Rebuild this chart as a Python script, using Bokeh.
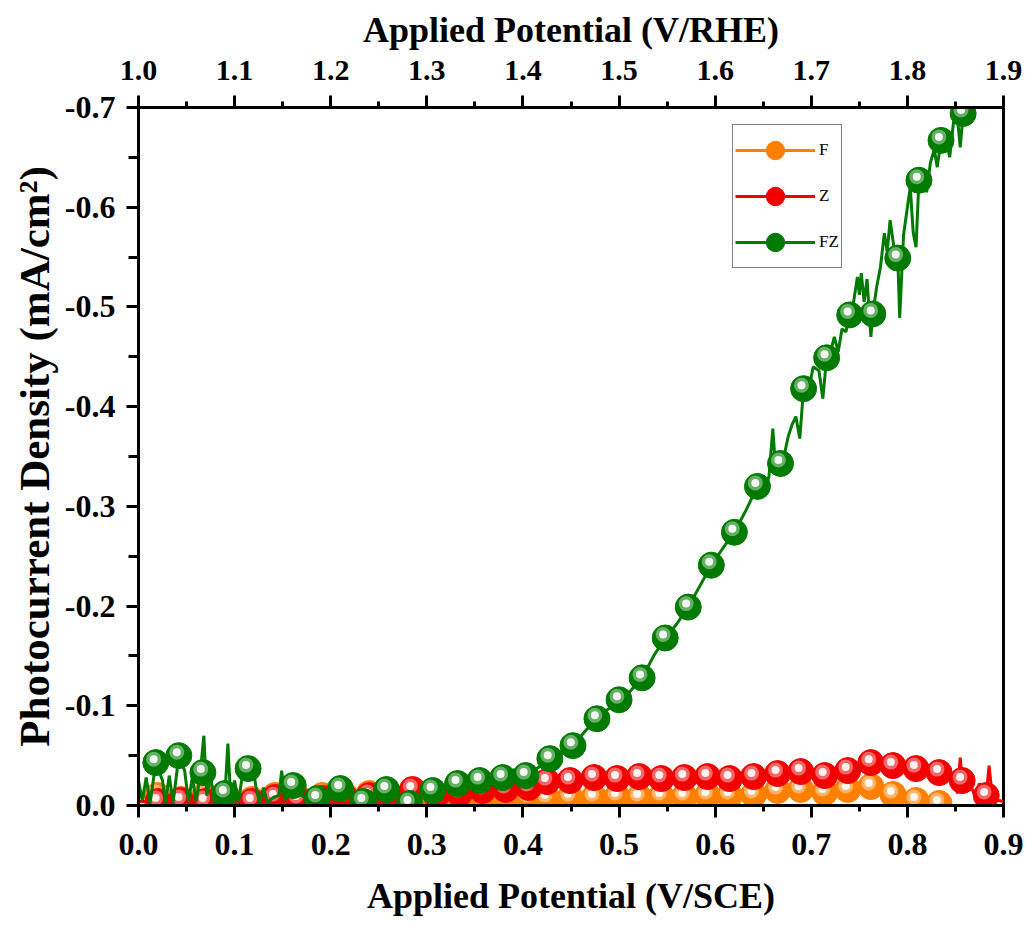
from bokeh.plotting import figure
from bokeh.models import (Range1d, LinearAxis, FixedTicker, NumeralTickFormatter,
                          ColumnDataSource, Legend, LegendItem)
from bokeh.transform import dodge
from bokeh.embed import file_html
from bokeh.resources import INLINE

# ---------------- data (V vs SCE, photocurrent mA/cm^2) ----------------
f_marker_x = [0.020, 0.044, 0.069, 0.093, 0.118, 0.142, 0.166, 0.191, 0.215, 0.240, 0.262, 0.285,
              0.310, 0.334, 0.358, 0.382, 0.406, 0.425, 0.449, 0.474, 0.498, 0.521, 0.544, 0.568,
              0.592, 0.615, 0.640, 0.665, 0.689, 0.714, 0.738, 0.762, 0.785, 0.809, 0.833]
f_marker_y = [-0.010, -0.006, -0.010, -0.008, -0.006, -0.010, -0.008, -0.010, -0.010, -0.012, -0.008, -0.006,
              -0.004, -0.005, -0.006, -0.006, -0.007, -0.007, -0.008, -0.008, -0.009, -0.008, -0.009, -0.009,
              -0.010, -0.010, -0.011, -0.015, -0.016, -0.013, -0.016, -0.019, -0.011, -0.005, -0.002]
f_line_x = [0.000, 0.020, 0.044, 0.069, 0.093, 0.118, 0.142, 0.166, 0.191, 0.215, 0.240, 0.262, 0.285,
            0.310, 0.334, 0.358, 0.382, 0.406, 0.425, 0.449, 0.474, 0.498, 0.521, 0.544, 0.568,
            0.592, 0.615, 0.640, 0.665, 0.689, 0.714, 0.738, 0.762, 0.785, 0.809, 0.833, 0.845]
f_line_y = [-0.008, -0.010, -0.006, -0.010, -0.008, -0.006, -0.010, -0.008, -0.010, -0.010, -0.012, -0.008, -0.006,
            -0.004, -0.005, -0.006, -0.006, -0.007, -0.007, -0.008, -0.008, -0.009, -0.008, -0.009, -0.009,
            -0.010, -0.010, -0.011, -0.015, -0.016, -0.013, -0.016, -0.019, -0.011, -0.005, -0.002, 0.000]

z_marker_x = [0.020, 0.044, 0.069, 0.093, 0.118, 0.142, 0.166, 0.191, 0.215, 0.240, 0.262, 0.285,
              0.310, 0.334, 0.358, 0.382, 0.406, 0.425, 0.449, 0.474, 0.498, 0.521, 0.544, 0.568,
              0.592, 0.615, 0.640, 0.665, 0.689, 0.714, 0.738, 0.762, 0.785, 0.809, 0.833, 0.857, 0.882]
z_marker_y = [-0.004, -0.005, -0.004, -0.005, -0.004, -0.008, -0.006, -0.007, -0.008, -0.010, -0.010, -0.016,
              -0.010, -0.012, -0.015, -0.016, -0.018, -0.024, -0.025, -0.028, -0.027, -0.029, -0.027, -0.028,
              -0.029, -0.027, -0.029, -0.032, -0.034, -0.030, -0.035, -0.043, -0.040, -0.037, -0.033, -0.025, -0.010]
z_line_x = [0.000, 0.020, 0.044, 0.069, 0.093, 0.118, 0.142, 0.166, 0.191, 0.215, 0.240, 0.262, 0.285,
            0.310, 0.334, 0.358, 0.382, 0.406, 0.425, 0.449, 0.474, 0.498, 0.521, 0.544, 0.568,
            0.592, 0.615, 0.640, 0.665, 0.689, 0.714, 0.738, 0.762, 0.785, 0.809, 0.833, 0.848,
            0.852, 0.855, 0.857, 0.866, 0.870, 0.875, 0.882, 0.885, 0.888, 0.895, 0.900]
z_line_y = [-0.004, -0.004, -0.005, -0.004, -0.005, -0.004, -0.008, -0.006, -0.007, -0.008, -0.010, -0.010, -0.016,
            -0.010, -0.012, -0.015, -0.016, -0.018, -0.024, -0.025, -0.028, -0.027, -0.029, -0.027, -0.028,
            -0.029, -0.027, -0.029, -0.032, -0.034, -0.030, -0.035, -0.043, -0.040, -0.037, -0.033, -0.030,
            -0.012, -0.048, -0.025, -0.020, -0.010, -0.022, -0.010, -0.040, -0.012, -0.005, -0.004]

fz_marker_x = [0.018, 0.042, 0.067, 0.090, 0.114, 0.161, 0.186, 0.210, 0.234, 0.258, 0.282, 0.306,
               0.332, 0.355, 0.379, 0.403, 0.428, 0.452, 0.477, 0.500, 0.524, 0.548, 0.572, 0.596,
               0.620, 0.644, 0.668, 0.692, 0.716, 0.740, 0.764, 0.790, 0.812, 0.835, 0.858]
fz_marker_y = [-0.043, -0.050, -0.033, -0.012, -0.037, -0.020, -0.007, -0.017, -0.004, -0.016, -0.002, -0.015,
               -0.022, -0.025, -0.028, -0.030, -0.047, -0.060, -0.087, -0.106, -0.128, -0.168, -0.199, -0.241,
               -0.274, -0.320, -0.343, -0.418, -0.449, -0.492, -0.493, -0.549, -0.627, -0.667, -0.694]
fz_line_x = [0.000, 0.004, 0.008, 0.012, 0.018, 0.025, 0.028, 0.032, 0.036, 0.042, 0.048, 0.052, 0.056,
             0.060, 0.064, 0.068, 0.071, 0.075, 0.079, 0.083, 0.087, 0.090, 0.093, 0.096, 0.100, 0.104,
             0.108, 0.114, 0.118, 0.122, 0.126, 0.130, 0.134, 0.140, 0.146, 0.149, 0.152, 0.156, 0.161,
             0.165, 0.170, 0.178, 0.186, 0.195, 0.203, 0.210, 0.222, 0.234, 0.245, 0.258, 0.270, 0.282,
             0.294, 0.306, 0.318, 0.332, 0.343, 0.355, 0.367, 0.379, 0.391, 0.397, 0.403, 0.416, 0.428,
             0.440, 0.452, 0.465, 0.477, 0.489, 0.500, 0.512, 0.524, 0.536, 0.548, 0.560, 0.572, 0.584,
             0.596, 0.608, 0.620, 0.632, 0.644, 0.650, 0.656, 0.660, 0.663, 0.668, 0.672, 0.676, 0.680,
             0.684, 0.688, 0.692, 0.698, 0.702, 0.708, 0.712, 0.716, 0.720, 0.724, 0.728, 0.732, 0.736,
             0.740, 0.744, 0.748, 0.750, 0.752, 0.755, 0.758, 0.762, 0.764, 0.768, 0.772, 0.776, 0.779,
             0.782, 0.786, 0.790, 0.792, 0.796, 0.800, 0.803, 0.806, 0.809, 0.812, 0.816, 0.820, 0.824,
             0.828, 0.831, 0.835, 0.840, 0.844, 0.848, 0.852, 0.855, 0.858, 0.865, 0.875, 0.900]
fz_line_y = [-0.025, -0.005, -0.028, -0.002, -0.043, -0.025, -0.002, -0.030, -0.003, -0.050, -0.035, -0.004, -0.028,
             -0.004, -0.030, -0.070, -0.010, -0.030, -0.002, -0.020, -0.005, -0.012, -0.062, -0.005, -0.025, -0.003,
             -0.030, -0.037, -0.045, -0.020, -0.002, -0.018, -0.003, -0.008, -0.010, -0.035, -0.005, -0.015, -0.020,
             -0.028, -0.010, -0.005, -0.007, -0.012, -0.006, -0.017, -0.010, -0.004, -0.010, -0.016, -0.008, -0.002,
             -0.010, -0.015, -0.018, -0.022, -0.024, -0.025, -0.026, -0.028, -0.036, -0.028, -0.030, -0.038, -0.047,
             -0.052, -0.060, -0.075, -0.087, -0.097, -0.106, -0.115, -0.128, -0.150, -0.168, -0.182, -0.199, -0.220,
             -0.241, -0.258, -0.274, -0.296, -0.320, -0.312, -0.330, -0.378, -0.335, -0.343, -0.352, -0.370, -0.382,
             -0.390, -0.368, -0.418, -0.420, -0.440, -0.436, -0.408, -0.449, -0.455, -0.470, -0.455, -0.478, -0.475,
             -0.492, -0.505, -0.530, -0.512, -0.534, -0.505, -0.528, -0.470, -0.493, -0.520, -0.540, -0.574, -0.555,
             -0.587, -0.560, -0.549, -0.489, -0.572, -0.600, -0.620, -0.575, -0.560, -0.627, -0.635, -0.615, -0.645,
             -0.658, -0.640, -0.667, -0.672, -0.650, -0.685, -0.690, -0.660, -0.694, -0.700, -0.705, -0.705]

series_names = ["F", "Z", "FZ"]
series_colors = ["#FF8000", "#F20000", "#007A00"]

sce_ticks = [0.0, 0.1, 0.2, 0.3, 0.4, 0.5, 0.6, 0.7, 0.8, 0.9]
sce_minor = [0.05, 0.15, 0.25, 0.35, 0.45, 0.55, 0.65, 0.75, 0.85]
rhe_ticks = [1.0, 1.1, 1.2, 1.3, 1.4, 1.5, 1.6, 1.7, 1.8, 1.9]
rhe_minor = [1.05, 1.15, 1.25, 1.35, 1.45, 1.55, 1.65, 1.75, 1.85]
j_ticks = [0.0, -0.1, -0.2, -0.3, -0.4, -0.5, -0.6, -0.7]
j_minor = [-0.05, -0.15, -0.25, -0.35, -0.45, -0.55, -0.65]

# ---------------- figure ----------------
FONT = "Liberation Serif"
p = figure(width=1029, height=926, output_backend="svg", toolbar_location=None,
           x_range=Range1d(0.0, 0.9), y_range=Range1d(0.0, -0.7),
           x_axis_location=None, y_axis_location=None,
           min_border_left=138, min_border_right=26, min_border_top=107, min_border_bottom=121)
p.grid.visible = False
p.outline_line_color = "black"
p.outline_line_width = 3
p.background_fill_color = "white"
p.border_fill_color = "white"


def style_axis(ax, tick_size, label_size):
    ax.axis_line_width = 3
    ax.axis_line_color = "black"
    ax.major_tick_line_width = 3
    ax.minor_tick_line_width = 3
    ax.major_tick_in = 0
    ax.minor_tick_in = 0
    ax.major_tick_out = 12
    ax.minor_tick_out = 6
    ax.major_label_text_font = FONT
    ax.major_label_text_font_style = "bold"
    ax.major_label_text_font_size = tick_size
    ax.major_label_text_color = "black"
    ax.axis_label_text_font = FONT
    ax.axis_label_text_font_style = "bold"
    ax.axis_label_text_font_size = label_size
    ax.axis_label_text_color = "black"


bottom = LinearAxis(ticker=FixedTicker(ticks=sce_ticks, minor_ticks=sce_minor),
                    formatter=NumeralTickFormatter(format="0.0"),
                    axis_label="Applied Potential (V/SCE)")
style_axis(bottom, "32px", "36px")
bottom.major_label_standoff = 16
bottom.axis_label_standoff = 18
p.add_layout(bottom, "below")

p.extra_x_ranges = {"rhe": Range1d(rhe_ticks[0], rhe_ticks[-1])}
top = LinearAxis(x_range_name="rhe",
                 ticker=FixedTicker(ticks=rhe_ticks, minor_ticks=rhe_minor),
                 formatter=NumeralTickFormatter(format="0.0"),
                 axis_label="Applied Potential (V/RHE)")
style_axis(top, "30px", "36px")
top.major_label_standoff = 16
top.axis_label_standoff = 8
p.add_layout(top, "above")

left = LinearAxis(ticker=FixedTicker(ticks=j_ticks, minor_ticks=j_minor),
                  formatter=NumeralTickFormatter(format="0.0"),
                  axis_label="Photocurrent Density (mA/cm²)")
style_axis(left, "32px", "43px")
left.minor_tick_out = 10
left.major_label_standoff = 11
left.axis_label_standoff = 4
p.add_layout(left, "left")

lines = [(f_line_x, f_line_y, f_marker_x, f_marker_y),
         (z_line_x, z_line_y, z_marker_x, z_marker_y),
         (fz_line_x, fz_line_y, fz_marker_x, fz_marker_y)]

items = []
for (lx, ly, mx, my), name, color in zip(lines, series_names, series_colors):
    lsrc = ColumnDataSource(dict(x=lx, y=ly))
    msrc = ColumnDataSource(dict(x=mx, y=my))
    r_line = p.line("x", "y", source=lsrc, line_color=color, line_width=3)
    r_ball = p.scatter("x", "y", source=msrc, marker="circle", size=26,
                       fill_color=color, line_color=color, line_width=1)
    p.scatter(dodge("x", -0.0022), dodge("y", -0.0035), source=msrc, marker="circle", size=15,
              fill_color="white", fill_alpha=0.4, line_color=None)
    p.scatter(dodge("x", -0.0022), dodge("y", -0.0035), source=msrc, marker="circle", size=8,
              fill_color="white", fill_alpha=0.9, line_color=None)
    items.append(LegendItem(label=name, renderers=[r_line, r_ball]))

legend = Legend(items=items, location=(594, 537))
legend.glyph_width = 80
legend.glyph_height = 46
legend.spacing = 0
legend.padding = 2
legend.margin = 0
legend.label_standoff = 4
legend.label_text_font = FONT
legend.label_text_font_size = "17px"
legend.label_text_color = "black"
legend.border_line_color = "black"
legend.border_line_width = 1
legend.background_fill_color = "white"
legend.background_fill_alpha = 1.0
p.add_layout(legend, "center")

open("out.html", "w").write(file_html(p, INLINE))
